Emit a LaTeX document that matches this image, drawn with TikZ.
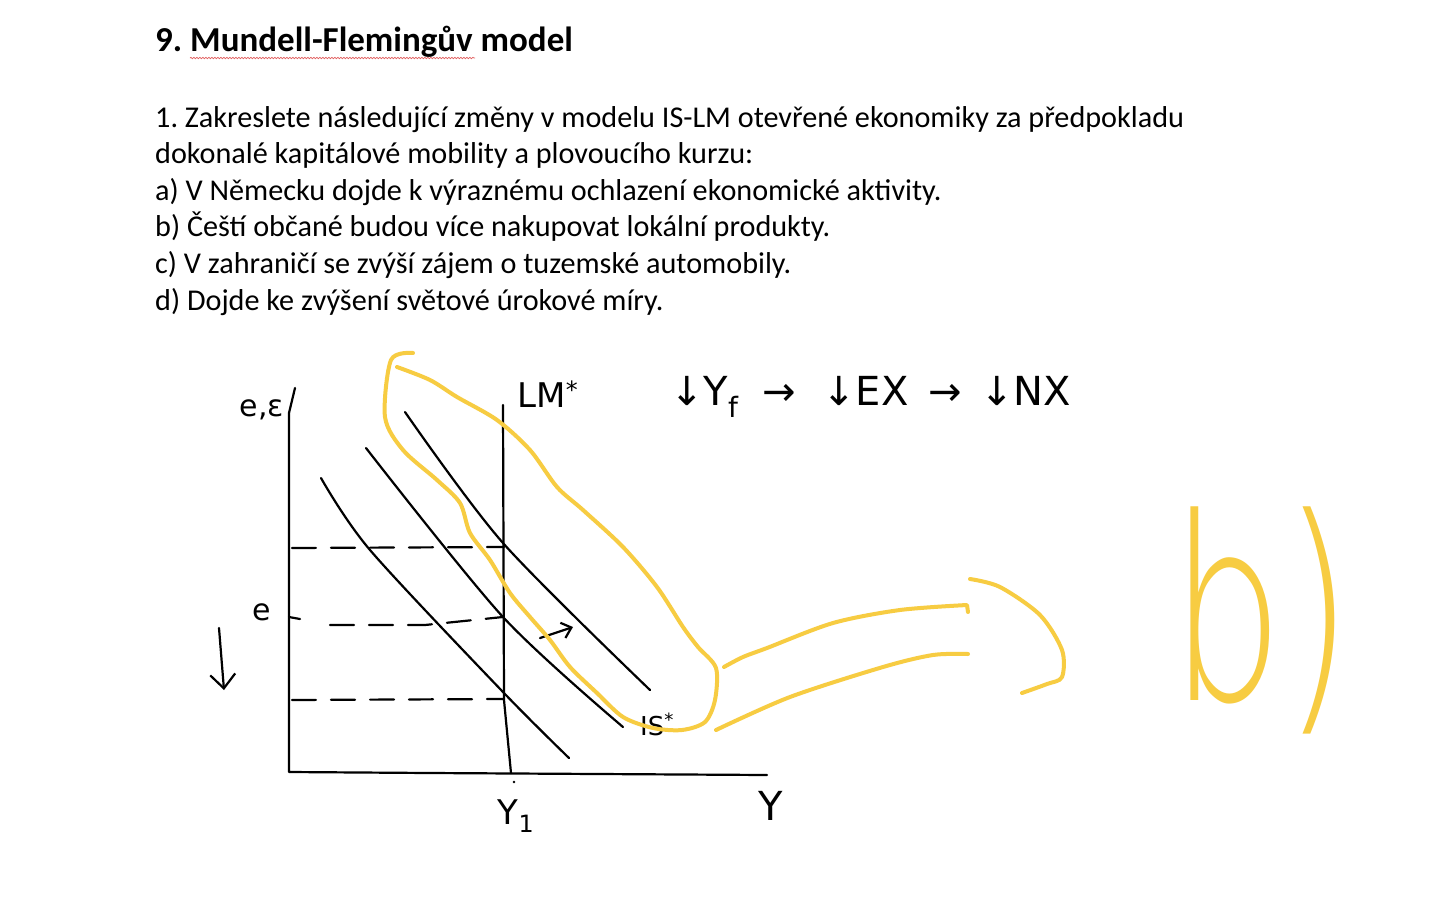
\documentclass[tikz,border=0pt]{standalone}
\usepackage{fontspec}
\setmainfont{Carlito}
\newfontfamily\hand{DejaVu Sans}
\newfontfamily\handthin{DejaVu Sans ExtraLight}
\usetikzlibrary{arrows.meta,decorations.pathmorphing}
\definecolor{marker}{RGB}{247,204,66}
\definecolor{spellred}{RGB}{226,96,96}
\frenchspacing

\begin{document}
\begin{tikzpicture}[x=1pt,y=-1pt,
    pen/.style={line width=2.2pt,line cap=round,line join=round},
    hl/.style={draw=marker,line width=4pt,line cap=round,line join=round},
    dashline/.style={pen,dash pattern=on 24pt off 15pt},
    hw/.style={inner sep=0pt,font=\hand\fontsize{30}{30}\selectfont},
    chainpart/.style={hw,anchor=base west,font=\hand\fontsize{40}{40}\selectfont}]
    \useasboundingbox (0,0) rectangle (1452,919);
    \fill[white] (0,0) rectangle (1452,919);

    % zadani
    \node[anchor=base west,inner sep=0pt,font=\fontsize{35}{40}\selectfont\bfseries] (title) at (155,51) {9. Mundell-Flemingův model};
    \draw[spellred,line width=.7pt,decorate,decoration={snake,amplitude=.7pt,segment length=3pt}] (190,58) -- (475,58);
    \foreach \txt [count=\i from 0] in {{1. Zakreslete následující změny v modelu IS-LM otevřené ekonomiky za předpokladu},
        {dokonalé kapitálové mobility a plovoucího kurzu:},
        {a) V Německu dojde k výraznému ochlazení ekonomické aktivity.},
        {b) Čeští občané budou více nakupovat lokální produkty.},
        {c) V zahraničí se zvýší zájem o tuzemské automobily.},
        {d) Dojde ke zvýšení světové úrokové míry.}}
        \node[anchor=base west,inner sep=0pt,font=\fontsize{30.2}{36}\selectfont] (line\i) at (155,127+36.6*\i) {\txt};

    % osy
    \draw[pen] (295,388) -- (289,413) -- (289,772) -- (430,773) -- (767,775);
    \draw[pen] (503,405) -- (504,700) -- (511,773);
    \fill (514,782) circle (1.4pt);

    % IS krivky
    \draw[pen] plot[smooth] coordinates {(405,412) (503,543) (650,690)};
    \draw[pen] plot[smooth] coordinates {(366,448) (503,617) (623,727)};
    \draw[pen] plot[smooth] coordinates {(321,478) (370,550) (503,692) (569,758)};

    % urovne kurzu
    \draw[dashline] (292,548) -- (504,547);
    \draw[pen] (289,617) -- (300,619);
    \draw[dashline] (330,625) -- (425,625) -- (503,617);
    \draw[dashline] (292,700) -- (503,699);

    \draw[pen,-{Straight Barb[length=9pt,width=16pt]}] (540,638) -- (573,627);
    \draw[pen,-{Straight Barb[length=14pt,width=25pt]}] (219,628) -- (224,690);

    % popisky
    \node[hw] (eps) at (262,410) {e,ε};
    \node[hw] (e) at (262,612) {e};
    \node[hw,font=\hand\fontsize{34}{34}\selectfont] (lm) at (548,394) {LM\textsuperscript{*}};
    \node[hw,font=\hand\fontsize{26}{26}\selectfont] (is) at (657,724) {IS\textsuperscript{*}};
    \node[hw,font=\hand\fontsize{34}{34}\selectfont] (y1) at (516,816) {Y\textsubscript{1}};
    \node[hw,font=\hand\fontsize{40}{40}\selectfont] (y) at (771,806) {Y};
    \node[chainpart] (yf) at (670,405) {↓Y\textsubscript{f}};
    \node[chainpart] (to1) at (762,405) {→};
    \node[chainpart] (ex) at (822,405) {↓EX};
    \node[chainpart] (to2) at (928,405) {→};
    \node[chainpart] (nx) at (980,405) {↓NX};

    % zvyrazneni
    \draw[hl] plot[smooth] coordinates {(413,353) (391,360) (385,417) (403,450) (437,480) (460,503) (470,533)
        (490,560) (510,593) (530,617) (550,640) (570,667) (597,693) (623,717) (653,728) (682,730) (705,722)
        (715,700) (716,668) (698,647) (683,627) (657,587) (623,547) (583,510) (557,487) (530,450) (497,420)
        (457,397) (430,380) (397,367)};
    \draw[hl] plot[smooth] coordinates {(724,667) (743,657) (767,648) (833,623) (900,610) (967,605)} -- (968,612);
    \draw[hl] plot[smooth] coordinates {(716,730) (790,697) (883,667) (933,655) (968,654)};
    \draw[hl] plot[smooth] coordinates {(970,579) (1000,587) (1040,615) (1062,650) (1062,677) (1047,684) (1022,693)};
    \node[inner sep=0pt,anchor=base west,text=marker,font=\handthin\fontsize{255}{255}\selectfont] (b) at (1170,700) {\scalebox{0.7}[1]{b)}};
\end{tikzpicture}
\end{document}
